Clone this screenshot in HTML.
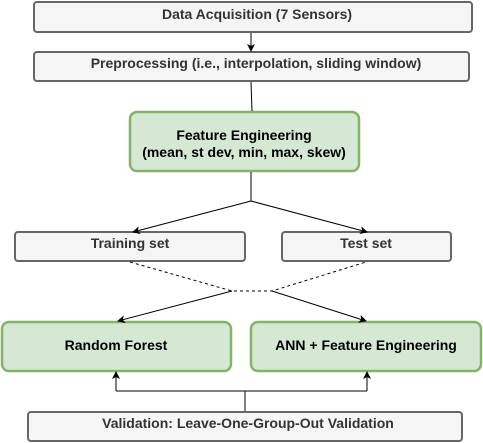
<!DOCTYPE html>
<html><head><style>
html,body{margin:0;padding:0;background:#fff;width:483px;height:443px;overflow:hidden}
svg text{font-family:"Liberation Sans",Arial,sans-serif;font-weight:bold;font-size:14px;text-anchor:middle}
</style></head><body>
<svg width="483" height="443" viewBox="0 0 483 443">
<defs><marker id="a" markerWidth="8" markerHeight="8" refX="7" refY="4" orient="auto" markerUnits="userSpaceOnUse"><path d="M0,0 L8,4 L0,8 L2,4 z" fill="#000"/></marker></defs>
<g fill="#f5f5f5" stroke="#666" stroke-width="2">
<rect x="34" y="2" width="438" height="30" rx="3"/>
<rect x="34" y="52" width="435" height="29" rx="3"/>
<rect x="15" y="232" width="230" height="29" rx="3"/>
<rect x="282" y="232" width="169" height="29" rx="3"/>
<rect x="28" y="412" width="434" height="29" rx="3"/>
</g>
<g fill="#d5e8d4" stroke="#82b366" stroke-width="2.5">
<rect x="130" y="112" width="229" height="59" rx="7"/>
<rect x="2" y="322" width="229" height="49" rx="7"/>
<rect x="251" y="322" width="230" height="49" rx="7"/>
</g>
<g stroke="#000" fill="none" stroke-width="1">
<line x1="251" y1="33" x2="251" y2="51" marker-end="url(#a)"/>
<line x1="251" y1="82" x2="252" y2="111"/>
<polyline points="251,172 251,201"/>
<line x1="251" y1="201" x2="133" y2="232" marker-end="url(#a)"/>
<line x1="251" y1="201" x2="367" y2="232" marker-end="url(#a)"/>
<polyline points="130,262 232,291 272,291 366,262" stroke-dasharray="3,3"/>
<line x1="232" y1="291" x2="118" y2="321" marker-end="url(#a)"/>
<line x1="272" y1="291" x2="366" y2="321" marker-end="url(#a)"/>
<polyline points="245,411 245,391"/>
<polyline points="116,391 367,391"/>
<line x1="116" y1="391" x2="116" y2="372" marker-end="url(#a)"/>
<line x1="367" y1="391" x2="367" y2="372" marker-end="url(#a)"/>
</g>
<g fill="#333">
<text x="257" y="19">Data Acquisition (7 Sensors)</text>
<text x="256" y="68">Preprocessing (i.e., interpolation, sliding window)</text>
<text x="130" y="248">Training set</text>
<text x="366" y="248">Test set</text>
<text x="248" y="428">Validation: Leave-One-Group-Out Validation</text>
</g>
<g fill="#000">
<text x="244" y="140">Feature Engineering</text>
<text x="244" y="157">(mean, st dev, min, max, skew)</text>
<text x="116" y="350">Random Forest</text>
<text x="366" y="350">ANN + Feature Engineering</text>
</g>
</svg>
</body></html>
